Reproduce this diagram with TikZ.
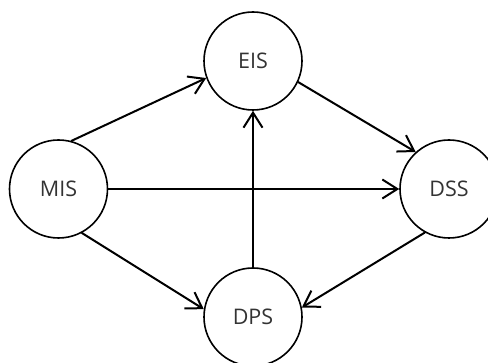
\documentclass[tikz,border=0pt]{standalone}
\usepackage{fontspec}
\setmainfont{Open Sans}
\usetikzlibrary{arrows.meta}

\begin{document}
\begin{tikzpicture}[x = 1pt, y = -1pt, >={Straight Barb[length = 15pt, width = 19pt]},
						sys node/.style = {circle, draw, minimum size = 98pt, inner sep = 0pt, line width = 1.6pt, font = \fontsize{21.5}{26}\selectfont, text = black!80},
						flow/.style = {->, line width = 2pt, line cap = round, line join = round}]
		\clip (0, 0) rectangle (488, 363);
		\useasboundingbox (0, 0) rectangle (488, 363);
		\node[sys node] (mis) at (58.5, 189) {MIS};
		\node[sys node] (eis) at (253, 61) {EIS};
		\node[sys node] (dss) at (449, 189) {DSS};
		\node[sys node] (dps) at (253, 317) {DPS};

		\draw[flow] (mis.75) -- (eis.200);
		\draw[flow] (eis.335) -- (dss.132);
		\draw[flow] (mis.east) -- (dss.west);
		\draw[flow] (mis.298) -- (dps.171);
		\draw[flow] (dss.241) -- (dps.11);
		\draw[flow] (dps.north) -- (eis.south);
	\end{tikzpicture}
\end{document}
